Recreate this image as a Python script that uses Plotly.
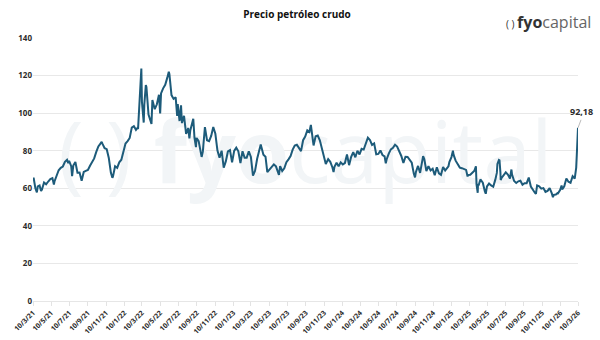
import plotly.graph_objects as go
from datetime import date, timedelta

# ---------------- data ----------------
dates = [
 "2021-03-10","2021-03-12","2021-03-18","2021-03-23","2021-03-26","2021-04-01","2021-04-06","2021-04-09","2021-04-16","2021-04-23",
 "2021-04-30","2021-05-07","2021-05-14","2021-05-19","2021-05-21","2021-05-28","2021-06-04","2021-06-11","2021-06-18","2021-06-25",
 "2021-07-02","2021-07-06","2021-07-09","2021-07-16","2021-07-19","2021-07-23","2021-07-30","2021-08-06","2021-08-13","2021-08-20",
 "2021-08-27","2021-09-03","2021-09-10","2021-09-17","2021-09-24","2021-10-01","2021-10-08","2021-10-15","2021-10-22","2021-10-26",
 "2021-10-29","2021-11-05","2021-11-12","2021-11-19","2021-11-26","2021-12-01","2021-12-03","2021-12-10","2021-12-17","2021-12-24",
 "2021-12-31",
 "2022-01-07","2022-01-14","2022-01-21","2022-01-28","2022-02-04","2022-02-11","2022-02-18","2022-02-23","2022-02-25","2022-03-01",
 "2022-03-04","2022-03-08","2022-03-10","2022-03-16","2022-03-18","2022-03-23","2022-03-25","2022-04-01","2022-04-06","2022-04-11",
 "2022-04-14","2022-04-22","2022-04-29","2022-05-06","2022-05-10","2022-05-13","2022-05-20","2022-05-27","2022-06-03","2022-06-08",
 "2022-06-10","2022-06-17","2022-06-24","2022-07-01","2022-07-06","2022-07-08","2022-07-14","2022-07-19","2022-07-22","2022-07-29",
 "2022-08-05","2022-08-12","2022-08-16","2022-08-19","2022-08-29","2022-09-02","2022-09-07","2022-09-09","2022-09-16","2022-09-23",
 "2022-09-26","2022-09-30","2022-10-07","2022-10-14","2022-10-21","2022-10-28","2022-11-04","2022-11-11","2022-11-18","2022-11-25",
 "2022-12-02","2022-12-09","2022-12-16","2022-12-23","2022-12-30",
 "2023-01-06","2023-01-13","2023-01-20","2023-01-27","2023-02-03","2023-02-10","2023-02-17","2023-02-24","2023-03-03","2023-03-10",
 "2023-03-17","2023-03-24","2023-03-31","2023-04-07","2023-04-12","2023-04-21","2023-04-28","2023-05-04","2023-05-12","2023-05-19",
 "2023-05-26","2023-06-02","2023-06-12","2023-06-16","2023-06-23","2023-06-30","2023-07-07","2023-07-14","2023-07-21","2023-07-28",
 "2023-08-04","2023-08-11","2023-08-18","2023-08-25","2023-09-01","2023-09-08","2023-09-15","2023-09-22","2023-09-27","2023-10-06",
 "2023-10-13","2023-10-20","2023-10-27","2023-11-03","2023-11-10","2023-11-16","2023-11-24","2023-12-01","2023-12-08","2023-12-12",
 "2023-12-15","2023-12-22","2023-12-29",
 "2024-01-05","2024-01-12","2024-01-19","2024-01-26","2024-02-02","2024-02-09","2024-02-16","2024-02-23","2024-03-01","2024-03-08",
 "2024-03-15","2024-03-22","2024-03-28","2024-04-05","2024-04-12","2024-04-19","2024-04-26","2024-05-03","2024-05-10","2024-05-17",
 "2024-05-24","2024-05-31","2024-06-04","2024-06-07","2024-06-14","2024-06-21","2024-06-28","2024-07-05","2024-07-12","2024-07-19",
 "2024-07-26","2024-08-02","2024-08-09","2024-08-16","2024-08-23","2024-08-30","2024-09-06","2024-09-10","2024-09-13","2024-09-20",
 "2024-09-27","2024-10-04","2024-10-07","2024-10-11","2024-10-18","2024-10-25","2024-11-01","2024-11-08","2024-11-15","2024-11-22",
 "2024-11-29","2024-12-06","2024-12-13","2024-12-20","2024-12-27","2024-12-31",
 "2025-01-03","2025-01-10","2025-01-15","2025-01-17","2025-01-24","2025-01-31","2025-02-07","2025-02-14","2025-02-21","2025-02-28",
 "2025-03-05","2025-03-07","2025-03-14","2025-03-21","2025-03-28","2025-04-02","2025-04-04","2025-04-08","2025-04-09","2025-04-11",
 "2025-04-17","2025-04-25","2025-05-02","2025-05-05","2025-05-09","2025-05-16","2025-05-23","2025-05-30","2025-06-06","2025-06-11",
 "2025-06-13","2025-06-18","2025-06-20","2025-06-23","2025-06-24","2025-06-27","2025-07-03","2025-07-11","2025-07-18","2025-07-25",
 "2025-07-30","2025-08-01","2025-08-08","2025-08-15","2025-08-22","2025-08-29","2025-09-05","2025-09-12","2025-09-19","2025-09-26",
 "2025-10-03","2025-10-10","2025-10-17","2025-10-20","2025-10-24","2025-10-31","2025-11-07","2025-11-14","2025-11-21","2025-11-28",
 "2025-12-05","2025-12-12","2025-12-16","2025-12-19","2025-12-26","2025-12-31",
 "2026-01-02","2026-01-09","2026-01-14","2026-01-16","2026-01-23","2026-01-30","2026-02-06","2026-02-13","2026-02-20","2026-02-27",
 "2026-03-02","2026-03-04","2026-03-06","2026-03-09","2026-03-10",
]
prices = [
 64.4,65.6,60.0,57.8,61.0,61.5,58.6,59.3,63.1,62.1,
 63.6,64.9,65.4,62.0,63.6,66.3,69.6,70.9,71.6,74.1,
 75.2,73.4,74.6,71.8,66.4,72.1,74.0,68.3,68.4,64.0,
 68.7,69.3,69.7,72.0,74.0,75.9,79.4,82.3,83.8,84.7,
 83.6,81.3,80.8,76.1,68.2,65.6,66.3,71.7,70.9,73.8,
 75.2,
 78.9,83.8,85.1,86.8,92.3,93.1,91.1,92.1,91.6,103.4,
 115.7,123.7,106.0,95.0,104.7,114.9,113.9,99.3,96.2,94.3,
 107.0,102.1,104.7,109.8,99.8,110.5,113.2,115.1,118.9,122.1,
 120.7,109.6,107.6,108.4,98.5,104.8,95.8,104.2,94.7,98.6,
 89.0,92.1,86.5,90.8,97.0,86.9,81.9,86.8,85.1,78.7,
 76.7,79.5,92.6,85.6,85.1,87.9,92.6,89.0,80.1,76.3,
 80.0,71.0,74.3,79.6,80.3,
 73.8,79.9,81.6,79.7,73.4,79.7,76.3,76.3,79.7,76.7,
 66.7,69.3,75.7,80.7,83.3,77.9,76.8,68.6,70.0,71.7,
 72.7,71.7,67.1,71.8,69.2,70.6,73.9,75.4,77.1,80.6,
 82.8,83.2,81.3,79.8,85.6,87.5,90.8,90.0,93.7,82.8,
 87.7,88.1,85.5,80.5,77.2,72.9,75.5,74.1,71.2,68.6,
 71.4,73.6,71.7,
 73.8,72.7,73.4,78.0,72.3,76.8,79.2,76.5,80.0,78.0,
 81.0,80.6,83.2,86.9,85.7,83.1,83.9,78.1,78.3,80.1,
 77.7,77.0,73.3,75.5,78.5,80.7,81.5,83.2,82.2,80.1,
 77.2,73.5,76.8,76.7,74.8,73.6,67.7,65.8,68.7,71.9,
 68.2,74.4,77.1,75.6,69.2,71.8,69.5,70.4,67.0,71.2,
 68.0,67.2,71.3,69.5,70.6,71.7,
 74.0,76.6,80.0,77.9,74.7,72.5,71.0,70.7,70.4,69.8,
 66.3,67.0,67.2,68.3,69.4,71.7,62.0,57.6,62.4,61.5,
 64.7,63.0,58.3,57.1,61.0,62.5,61.5,60.8,64.6,68.2,
 73.0,75.1,74.9,68.5,64.4,65.5,67.0,68.5,67.3,65.2,
 70.0,67.3,63.9,62.8,63.7,64.0,61.9,62.7,62.7,65.7,
 60.9,58.9,57.5,57.0,61.5,61.0,59.8,60.1,58.1,58.6,
 60.1,57.4,55.3,56.5,56.7,57.4,
 57.3,59.1,61.5,59.4,61.1,65.2,63.5,62.9,66.4,65.2,
 67.5,71.0,78.0,86.0,92.18,
]
tick_labels = ["10/3/21","10/5/21","10/7/21","10/9/21","10/11/21",
               "10/1/22","10/3/22","10/5/22","10/7/22","10/9/22","10/11/22",
               "10/1/23","10/3/23","10/5/23","10/7/23","10/9/23","10/11/23",
               "10/1/24","10/3/24","10/5/24","10/7/24","10/9/24","10/11/24",
               "10/1/25","10/3/25","10/5/25","10/7/25","10/9/25","10/11/25",
               "10/1/26","10/3/26"]
y_ticks = [0, 20, 40, 60, 80, 100, 120, 140]
title_text = "Precio petróleo crudo"
last_label = "92,18"

def lab2iso(s):
    d, m, y = s.split("/")
    return f"20{y}-{int(m):02d}-{int(d):02d}"

tick_vals = [lab2iso(s) for s in tick_labels]

LINE = "#1d5b7a"
TXT = "#2b2b2b"
FONT = "Open Sans"

fig = go.Figure()

# watermark (behind the line)
d0 = date.fromisoformat(tick_vals[0]); d1 = date.fromisoformat(tick_vals[-1])
mid = d0 + timedelta(days=(d1 - d0).days * 0.5)
fig.add_trace(go.Scatter(
    x=[mid.isoformat()], y=[y_ticks[-1] * 0.53], mode="text",
    text=["( ) <b>fyo</b>capital"], textposition="middle center",
    textfont=dict(family=FONT, size=86, color="#f2f5f7"),
    hoverinfo="skip", showlegend=False))

fig.add_trace(go.Scatter(
    x=dates, y=prices, mode="lines",
    line=dict(color=LINE, width=2), showlegend=False,
    hoverinfo="x+y"))

fig.add_annotation(x=dates[-1], y=prices[-1], text=f"<b>{last_label}</b>",
                   showarrow=True, arrowhead=0, arrowwidth=1, arrowcolor="#bbbbbb",
                   ax=3, ay=-8, font=dict(family=FONT, size=9, color=TXT),
                   xanchor="center", yanchor="bottom")

# logo
fig.add_annotation(xref="paper", yref="paper", x=1.027, y=1.06, xanchor="right", yanchor="middle",
                   text="<span style='font-size:10px'>( ) </span><b>fyo</b><span style='color:#666'>capital</span>",
                   showarrow=False, font=dict(family=FONT, size=16, color="#333333"))

fig.update_layout(
    width=600, height=340,
    margin=dict(l=33, r=22, t=38, b=39),
    paper_bgcolor="white", plot_bgcolor="white",
    title=dict(text=f"<b>{title_text}</b>", x=0.495, xanchor="center", y=0.958, yanchor="middle",
               font=dict(family=FONT, size=10, color="#111111")),
    xaxis=dict(type="date", range=[tick_vals[0], tick_vals[-1]], automargin=False,
               tickvals=tick_vals, ticktext=tick_labels, tickangle=-45,
               tickfont=dict(family=FONT, size=7, color=TXT, weight="bold"),
               showgrid=False, ticks="outside", ticklen=4, tickcolor="#e3e3e3",
               showline=True, linecolor="#e6e6e6", linewidth=1, zeroline=False),
    yaxis=dict(range=[y_ticks[0], y_ticks[-1]], tickvals=y_ticks, automargin=False,
               tickfont=dict(family=FONT, size=8, color=TXT, weight="bold"),
               showgrid=True, gridcolor="#e8e8e8", gridwidth=1, zeroline=False,
               ticks="", showline=False),
)

fig.write_html("out.html")
